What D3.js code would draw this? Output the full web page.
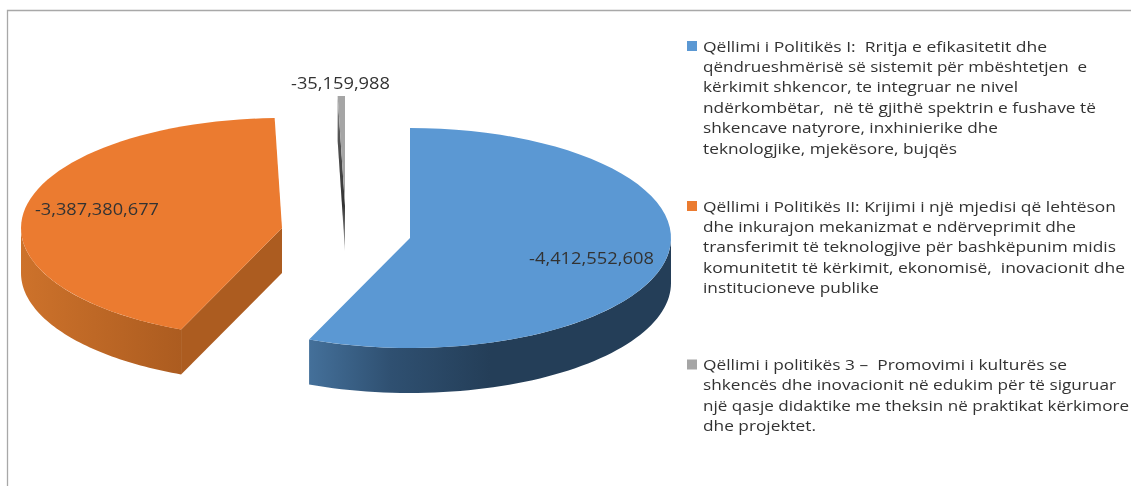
<!DOCTYPE html>
<html><head><meta charset="utf-8">
<script src="https://cdn.jsdelivr.net/npm/d3@7"></script>
<style>html,body{margin:0;padding:0;background:#fff}svg{display:block}text{font-family:"Open Sans",sans-serif;fill:#333;white-space:pre}</style>
</head><body><div id="c"></div>
<script>
const categories = ["Qëllimi i Politikës I", "Qëllimi i Politikës II", "Qëllimi i politikës 3"];
const values = [4412552608, 3387380677, 35159988];
const valueLabels = ["-4,412,552,608", "-3,387,380,677", "-35,159,988"];
const colors = ["#5b98d3", "#eb7b30", "#a5a5a5"];
const legendLines = [
 ["Qëllimi i Politikës I:  Rritja e efikasitetit dhe","qëndrueshmërisë së sistemit për mbështetjen  e","kërkimit shkencor, te integruar ne nivel","ndërkombëtar,  në të gjithë spektrin e fushave të","shkencave natyrore, inxhinierike dhe","teknologjike, mjekësore, bujqës"],
 ["Qëllimi i Politikës II: Krijimi i një mjedisi që lehtëson","dhe inkurajon mekanizmat e ndërveprimit dhe","transferimit të teknologjive për bashkëpunim midis","komunitetit të kërkimit, ekonomisë,  inovacionit dhe","institucioneve publike"],
 ["Qëllimi i politikës 3 –  Promovimi i kulturës se","shkencës dhe inovacionit në edukim për të siguruar","një qasje didaktike me theksin në praktikat kërkimore","dhe projektet."]
];
// layout: right end of each legend line, value label boxes
const legendEnds=[[1047,1087,1018,1096,998,957],[1116,1076,1116,1125,879],[1067,1116,1129,816]];
const labelBoxes=[[529,654,258],[35,159,209],[291,390,83]];
const W=1131,H=486,rx=261,ry=110,depth=45;
const centers=[[410,238],[282,228],[345,206]];
const legendTop=[46,206,364.5];
const svg=d3.select("#c").append("svg").attr("width",W).attr("height",H);
const defs=svg.append("defs");
defs.append("filter").attr("id","soft").attr("x","-5%").attr("y","-20%").attr("width","110%").attr("height","140%").append("feGaussianBlur").attr("stdDeviation",0.35);
const grad=(id,stops,x1,x2,y1=0,y2=0)=>{const g=defs.append("linearGradient").attr("id",id).attr("gradientUnits","userSpaceOnUse").attr("x1",x1).attr("x2",x2).attr("y1",y1).attr("y2",y2);stops.forEach(s=>g.append("stop").attr("offset",s[0]).attr("stop-color",s[1]));};
grad("wall0",[[0,"#44709a"],[0.45,"#2f5071"],[1,"#243e58"]],309,490);
grad("wall1",[[0,"#cd722b"],[1,"#ac5c20"]],21,181);
grad("wall2",[[0,"#9a9a9a"],[0.25,"#555"],[0.7,"#333"],[1,"#aaa"]],0,0,96,251);
svg.append("path").attr("d",`M${W},10.5H7.5V${H}`).attr("fill","none").attr("stroke","#a8a8a8").attr("stroke-width",1.3);
const arcs=d3.pie().sort(null).value(d=>d).startAngle(0).endAngle(2*Math.PI)(values);
const px=(c,a,dy=0)=>[c[0]+rx*Math.sin(a),c[1]-ry*Math.cos(a)+dy];
const samples=(a0,a1)=>d3.range(0,61).map(i=>a0+(a1-a0)*i/60);
const line=d3.line();
arcs.forEach((d,i)=>{
  const c=centers[i],g=svg.append("g");
  const a0=d.startAngle,a1=d.endAngle;
  const w0=Math.max(a0,Math.PI/2),w1=Math.min(a1,3*Math.PI/2);
  if(w1>w0){
    const top=samples(w0,w1).map(a=>px(c,a)),bot=samples(w0,w1).map(a=>px(c,a,depth)).reverse();
    g.append("path").attr("d",line(top.concat(bot))+"Z").attr("fill",`url(#wall${i})`);
  }
  if(i===1){
    const e=px(c,a0);
    g.append("path").attr("d",line([c,e,[e[0],e[1]+depth],[c[0],c[1]+depth]])+"Z").attr("fill","#ac5c20");
  }
  if(i===2){
    const e=px(c,a0);
    g.append("path").attr("d",line([e,c,[c[0],c[1]+depth],[e[0],e[1]+depth]])+"Z").attr("fill","url(#wall2)");
  }
  g.append("path").attr("d",line([c].concat(samples(a0,a1).map(a=>px(c,a))))+"Z").attr("fill",colors[i]);
});
valueLabels.forEach((t,i)=>{
  const b=labelBoxes[i];
  svg.append("text").attr("x",b[0]).attr("y",b[2]+5.5).attr("textLength",b[1]-b[0]).attr("lengthAdjust","spacingAndGlyphs").attr("font-size",15.5).attr("filter","url(#soft)").text(t);
});
legendLines.forEach((lines,i)=>{
  svg.append("rect").attr("x",687).attr("y",legendTop[i]-5).attr("width",10).attr("height",10).attr("fill",colors[i]);
  lines.forEach((t,j)=>{
    svg.append("text").attr("x",703).attr("y",legendTop[i]+j*20.4+5.5).attr("textLength",legendEnds[i][j]-703).attr("lengthAdjust","spacingAndGlyphs").attr("font-size",14.6).attr("fill","#404040").attr("filter","url(#soft)").text(t);
  });
});
</script></body></html>
